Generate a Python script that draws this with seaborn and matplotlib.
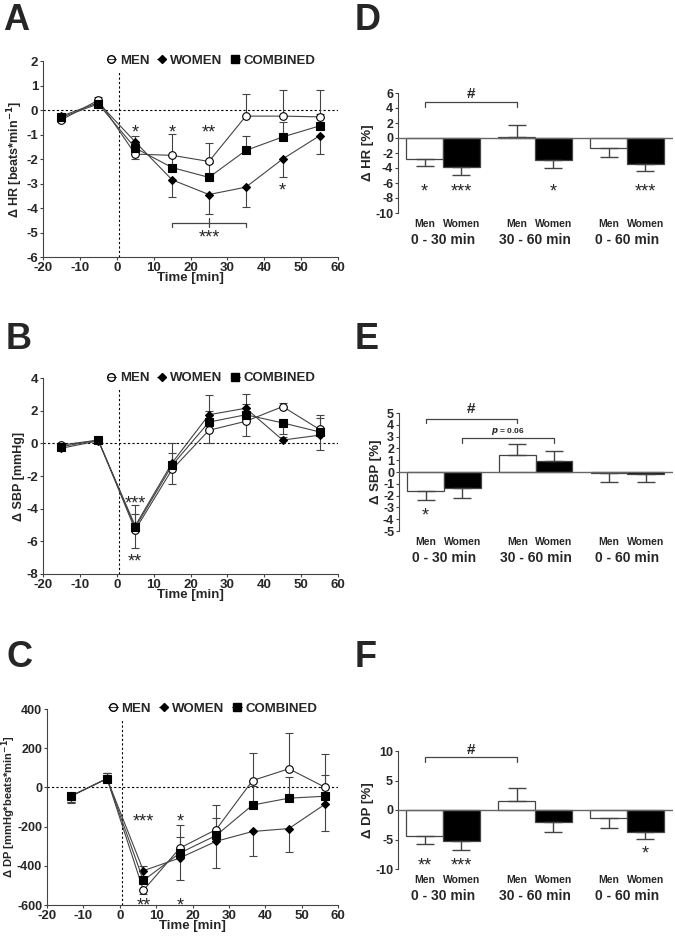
import pandas as pd
import seaborn as sns
import matplotlib.pyplot as plt
from matplotlib.lines import Line2D

# ---- time course data (A-C) ----
time_hr = [-15, -5, 5, 15, 25, 35, 45, 55]
hr_men = [-0.4, 0.4, -1.8, -1.85, -2.1, -0.25, -0.25, -0.28]
hr_men_err = [-0.1, 0.15, -0.2, 0.88, 0.75, 0.9, 1.07, 1.1]
hr_women = [-0.25, 0.3, -1.3, -2.85, -3.45, -3.15, -2.0, -1.05]
hr_women_err = [0.1, -0.15, 0.25, -0.7, -0.8, -0.8, -0.75, -0.75]
hr_comb = [-0.3, 0.25, -1.55, -2.35, -2.75, -1.65, -1.1, -0.65]
hr_comb_err = [0.1, 0.15, 0.2, 0.5, 0.6, 0.6, 0.6, 0.5]

time_sbp = [-15, -5, 5, 15, 25, 35, 45, 55]
sbp_men = [-0.1, 0.2, -5.3, -1.6, 0.8, 1.35, 2.25, 0.85]
sbp_men_err = [0.1, 0.2, -1.1, -0.9, -0.8, -0.9, 0.2, 0.9]
sbp_women = [-0.3, 0.15, -5.05, -1.2, 1.75, 2.15, 0.2, 0.5]
sbp_women_err = [-0.1, 0.2, 1.25, 1.25, 1.2, 0.9, 0.2, -0.9]
sbp_comb = [-0.2, 0.2, -5.15, -1.35, 1.3, 1.75, 1.25, 0.7]
sbp_comb_err = [0.1, 0.2, 0.8, 0.75, 0.7, 0.65, -0.7, 0.85]

time_dp = [-13.5, -3.5, 6.5, 16.5, 26.5, 36.5, 46.5, 56.5]
dp_men = [-45, 45, -525, -310, -215, 35, 95, 0]
dp_men_err = [-30, 30, -20, 120, 125, 140, 180, 170]
dp_women = [-45, 45, -425, -360, -275, -225, -210, -85]
dp_women_err = [-30, 30, 25, -110, -135, -125, -120, -140]
dp_comb = [-45, 45, -475, -335, -245, -90, -55, -45]
dp_comb_err = [-35, 30, 20, 80, 90, 95, 110, 110]

hr_marks = [(5, -0.68, "*"), (15, -0.68, "*"), (25, -0.68, "**"),
            (25, -4.98, "***"), (45, -3.06, "*")]
sbp_marks = [(5, -3.35, "***"), (5, -6.9, "**")]
dp_marks = [(6.5, -144, "***"), (16.5, -144, "*"), (6.5, -575, "**"), (16.5, -575, "*")]

# ---- percent change data (D-F) ----
periods = ["0 - 30 min", "30 - 60 min", "0 - 60 min"]
sexes = ["Men", "Women"]
hr_pct_men = [-2.8, 0.1, -1.35]
hr_pct_men_err = [1.0, 1.6, 1.25]
hr_pct_women = [-3.9, -3.0, -3.5]
hr_pct_women_err = [1.0, 1.0, 0.85]
sbp_pct_men = [-1.65, 1.4, -0.1]
sbp_pct_men_err = [0.7, 0.95, 0.75]
sbp_pct_women = [-1.35, 0.95, -0.15]
sbp_pct_women_err = [0.85, 0.85, 0.7]
dp_pct_men = [-4.4, 1.6, -1.4]
dp_pct_men_err = [1.4, 2.1, 1.6]
dp_pct_women = [-5.3, -2.1, -3.7]
dp_pct_women_err = [1.4, 1.6, 1.2]

hr_pct_marks = [("Men", 0, -6.4, "*"), ("Women", 0, -6.4, "***"),
                ("Women", 1, -6.4, "*"), ("Women", 2, -6.4, "***")]
sbp_pct_marks = [("Men", 0, -3.2, "*")]
dp_pct_marks = [("Men", 0, -8.5, "**"), ("Women", 0, -8.5, "***"), ("Women", 2, -6.5, "*")]

sns.set_style("ticks")
plt.rcParams['font.family'] = ['Liberation Sans', 'DejaVu Sans']
plt.rcParams['font.weight'] = 'bold'
plt.rcParams['axes.labelweight'] = 'bold'
plt.rcParams['axes.unicode_minus'] = False

GRAY = '#444444'
STAR = 13
W, H = 675, 938
fig = plt.figure(figsize=(6.75, 9.38), dpi=100)


def box(l, t, r, b):
    return [l / W, 1 - b / H, (r - l) / W, (b - t) / H]


def star(ax, x, y, s):
    # asterisks sit high in the em box: put the ink centre on y
    ax.annotate(s, xy=(x, y), xytext=(0, -0.58 * STAR), textcoords='offset points',
                ha='center', va='baseline', fontsize=STAR, fontweight='normal')


STYLES = {
    "MEN": dict(marker='o', markersize=5.5, markerfacecolor='white', markeredgecolor='black', zorder=4),
    "WOMEN": dict(marker='D', markersize=4, markerfacecolor='black', markeredgecolor='black', zorder=3),
    "COMBINED": dict(marker='s', markersize=5.5, markerfacecolor='black', markeredgecolor='black', zorder=5),
}


def time_panel(ax, t, series, ylim, yticks, ylabel, marks, ylabel_size=9, ytick_size=9.5):
    for name, vals, err in series:
        st = STYLES[name]
        lo = [max(-e, 0) for e in err]
        hi = [max(e, 0) for e in err]
        ax.errorbar(t, vals, yerr=[lo, hi], fmt='none', ecolor=GRAY,
                    elinewidth=0.8, capsize=3, capthick=0.8, zorder=1)
        sns.lineplot(x=t, y=vals, ax=ax, color=GRAY, linewidth=0.8,
                     markeredgewidth=0.8, **st)
    ax.axhline(0, color='black', lw=0.8, ls=(0, (2, 2)), zorder=0)
    ax.axvline(0.5, ymax=0.95, color='black', lw=0.8, ls=(0, (2, 2)), zorder=0)
    ax.set_xlim(-20, 60)
    ax.set_ylim(*ylim)
    ax.set_xticks(range(-20, 61, 10))
    ax.set_yticks(yticks)
    ax.set_xlabel("Time [min]", fontsize=9.5, labelpad=-1)
    ax.set_ylabel(ylabel, fontsize=ylabel_size, labelpad=1)
    ax.tick_params(labelsize=9.5, length=2.5, width=0.8, pad=1, color=GRAY)
    ax.tick_params(axis='y', labelsize=ytick_size)
    for s in ['left', 'bottom']:
        ax.spines[s].set_color(GRAY)
    sns.despine(ax=ax)
    for x, y, s in marks:
        star(ax, x, y, s)
    handles = []
    for n in ["MEN", "WOMEN", "COMBINED"]:
        st = {k: v for k, v in STYLES[n].items() if k != 'zorder'}
        if n == "MEN":
            st['markerfacecolor'] = 'none'
        handles.append(Line2D([0], [0], color=GRAY, lw=0.8, **st))
    ax.legend(handles, ["MEN", "WOMEN", "COMBINED"], ncol=3, frameon=False,
              loc='center', bbox_to_anchor=(0.57, 1.0), handlelength=0.7,
              handletextpad=0.3, columnspacing=0.6, prop=dict(weight='bold', size=9.5))


def bracket(ax, x1, x2, y, drop, text, ty, mid=False, size=11, style='normal'):
    ax.plot([x1, x1, x2, x2], [y - drop, y, y, y - drop], color=GRAY, lw=0.9, zorder=6)
    if mid:
        xm = (x1 + x2) / 2
        ax.plot([xm, xm], [y - drop, y + drop], color=GRAY, lw=0.9, zorder=6)
    ax.text((x1 + x2) / 2, ty, text, ha='center', va='center', fontsize=size, fontstyle=style)


def bar_panel(ax, men, men_err, women, women_err, ylim, yticks, ylabel, marks):
    df = pd.DataFrame({'period': periods * 2,
                       'sex': ['Men'] * 3 + ['Women'] * 3,
                       'value': men + women})
    sns.barplot(data=df, x='period', y='value', hue='sex', order=periods,
                hue_order=sexes, palette={'Men': 'white', 'Women': 'black'},
                edgecolor=GRAY, linewidth=0.9, width=0.8, errorbar=None,
                legend=False, ax=ax)
    errs = men_err + women_err
    labels = ['Men'] * 3 + ['Women'] * 3
    centers = {}
    for i, (bar, e) in enumerate(zip(ax.patches, errs)):
        xc = bar.get_x() + bar.get_width() / 2
        h = bar.get_height()
        centers[(labels[i], i % 3)] = xc
        yerr = [[0], [e]] if h >= 0 else [[e], [0]]
        ax.errorbar(xc, h, yerr=yerr, fmt='none', ecolor=GRAY, elinewidth=1,
                    capsize=6.5, capthick=1, zorder=1)
        ax.annotate(labels[i], xy=(xc, 0), xycoords=('data', 'axes fraction'),
                    xytext=(0, -8), textcoords='offset points', ha='center',
                    va='center', fontsize=7.5)
    for j, p in enumerate(periods):
        ax.annotate(p, xy=(j, 0), xycoords=('data', 'axes fraction'),
                    xytext=(0, -19.5), textcoords='offset points', ha='center',
                    va='center', fontsize=10)
    ax.axhline(0, color='#666666', lw=1, zorder=3)
    ax.set_xlim(-0.49, 2.5)
    ax.set_ylim(*ylim)
    ax.set_yticks(yticks)
    ax.set_xticks([])
    ax.set_xlabel("")
    ax.set_ylabel(ylabel, fontsize=9.5, labelpad=1)
    ax.tick_params(labelsize=9, length=2.5, width=0.8, pad=1, color=GRAY)
    ax.spines['left'].set_color(GRAY)
    sns.despine(ax=ax, bottom=True)
    for sex, j, y, s in marks:
        star(ax, centers[(sex, j)], y, s)
    return centers


axA = fig.add_axes(box(43, 61, 338, 257))
time_panel(axA, time_hr, [("MEN", hr_men, hr_men_err), ("WOMEN", hr_women, hr_women_err),
                          ("COMBINED", hr_comb, hr_comb_err)],
           (-6, 2), range(-6, 3), "Δ HR [beats*min$^{\\mathbf{-1}}$]", hr_marks)
bracket(axA, 15, 35, -4.6, 0.18, "", -4.6, mid=True)

axB = fig.add_axes(box(43, 378, 338, 574))
time_panel(axB, time_sbp, [("MEN", sbp_men, sbp_men_err), ("WOMEN", sbp_women, sbp_women_err),
                           ("COMBINED", sbp_comb, sbp_comb_err)],
           (-8, 4), range(-8, 5, 2), "Δ SBP [mmHg]", sbp_marks)

axC = fig.add_axes(box(47, 709, 338, 905))
time_panel(axC, time_dp, [("MEN", dp_men, dp_men_err), ("WOMEN", dp_women, dp_women_err),
                          ("COMBINED", dp_comb, dp_comb_err)],
           (-600, 400), range(-600, 401, 200), "Δ DP [mmHg*beats*min$^{\\mathbf{-1}}$]", dp_marks,
           ylabel_size=8, ytick_size=9)
axC.yaxis.set_label_coords(-0.098, 0.5)

axD = fig.add_axes(box(398, 93, 673, 213))
c = bar_panel(axD, hr_pct_men, hr_pct_men_err, hr_pct_women, hr_pct_women_err,
              (-10, 6), range(-10, 7, 2), "Δ HR [%]", hr_pct_marks)
bracket(axD, c[('Men', 0)], c[('Men', 1)], 4.8, 0.7, "#", 5.9)

axE = fig.add_axes(box(399, 413, 673, 531))
c = bar_panel(axE, sbp_pct_men, sbp_pct_men_err, sbp_pct_women, sbp_pct_women_err,
              (-5, 5), range(-5, 6), "Δ SBP [%]", sbp_pct_marks)
bracket(axE, c[('Men', 0)], c[('Men', 1)], 4.5, 0.35, "#", 5.3)
bracket(axE, c[('Women', 0)], c[('Women', 1)], 2.9, 0.45, "", 3.4)
axE.text((c[('Women', 0)] + c[('Women', 1)]) / 2, 3.45, "$\\it{p}$ = 0.06",
         ha='center', va='center', fontsize=6)

axF = fig.add_axes(box(398, 751, 673, 869))
c = bar_panel(axF, dp_pct_men, dp_pct_men_err, dp_pct_women, dp_pct_women_err,
              (-10, 10), range(-10, 11, 5), "Δ DP [%]", dp_pct_marks)
bracket(axF, c[('Men', 0)], c[('Men', 1)], 9.0, 0.9, "#", 10.2)

for letter, x, y in [("A", 3, 3), ("D", 355, 3), ("B", 6, 322), ("E", 355, 322),
                     ("C", 6, 640), ("F", 355, 640)]:
    fig.text(x / W, 1 - y / H, letter, fontsize=26, fontweight='bold', va='top', ha='left')

fig.savefig("out.png", dpi=100)
